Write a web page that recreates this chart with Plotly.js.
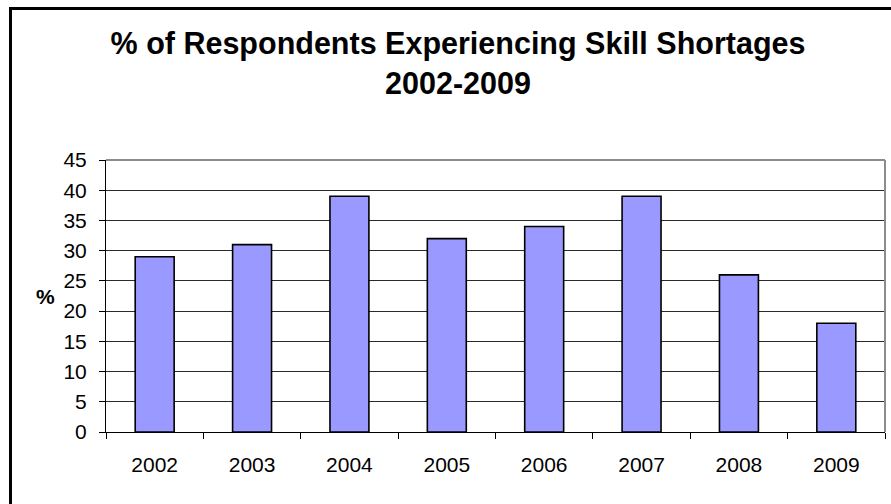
<!DOCTYPE html>
<html>
<head>
<meta charset="utf-8">
<script src="https://cdn.plot.ly/plotly-3.0.1.min.js"></script>
<style>
html,body{margin:0;padding:0;background:#fff;}
#chart{width:891px;height:504px;}
</style>
</head>
<body>
<div id="chart"></div>
<script>
const years = ["2002","2003","2004","2005","2006","2007","2008","2009"];
const percentRespondents = [29, 31, 39, 32, 34, 39, 26, 18];
const yTickValues = [0,5,10,15,20,25,30,35,40,45];

const W = 891, H = 504;
const M = {l:106, r:6, t:160, b:72};
const pw = W - M.l - M.r, ph = H - M.t - M.b;
const px = x => (x - M.l) / pw;
const py = y => (H - M.b - y) / ph;

const trace = {
  type: 'bar',
  x: years,
  y: percentRespondents,
  marker: {color: '#9999FF', line: {color: '#000000', width: 1.6}},
  hoverinfo: 'x+y'
};

const layout = {
  width: W, height: H,
  margin: M,
  paper_bgcolor: '#ffffff',
  plot_bgcolor: '#ffffff',
  showlegend: false,
  bargap: 0.6,
  font: {family: 'Liberation Sans, Arial, sans-serif', color: '#000', size: 21},
  title: {
    text: '<b>% of Respondents Experiencing Skill Shortages<br>2002-2009</b>',
    font: {family: 'Liberation Sans, Arial, sans-serif', size: 30.5, color: '#000'},
    x: 458 / W, xref: 'container', xanchor: 'center',
    y: 1 - 54 / H, yref: 'container', yanchor: 'top'
  },
  xaxis: {
    type: 'category',
    showline: true, linecolor: '#000', linewidth: 1,
    ticks: 'outside', tickson: 'boundaries', ticklen: 6, tickcolor: '#000', tickwidth: 1,
    showgrid: false,
    tickfont: {size: 21},
    ticklabelstandoff: 14
  },
  yaxis: {
    range: [0, 45],
    tickvals: yTickValues,
    ticktext: yTickValues.map(String),
    showline: true, linecolor: '#000', linewidth: 1,
    ticks: 'outside', ticklen: 6, tickcolor: '#000', tickwidth: 1,
    showgrid: true, gridcolor: '#2a2a2a', gridwidth: 1,
    zeroline: false,
    tickfont: {size: 21},
    ticklabelstandoff: 8
  },
  annotations: [{
    text: '<b>%</b>', xref: 'paper', yref: 'paper',
    x: px(46), y: py(296), xanchor: 'center', yanchor: 'middle',
    showarrow: false, font: {size: 21, color: '#000'}
  }],
  shapes: [
    {type: 'line', xref: 'paper', yref: 'paper', x0: 0, x1: 1, y0: 1, y1: 1,
     line: {color: '#8c8c8c', width: 2}, layer: 'above'},
    {type: 'line', xref: 'paper', yref: 'paper', x0: 1, x1: 1, y0: 0, y1: 1,
     line: {color: '#8c8c8c', width: 2}, layer: 'above'},
    {type: 'line', xref: 'paper', yref: 'paper', x0: px(10.5), x1: px(W + 10), y0: py(8.5), y1: py(8.5),
     line: {color: '#000', width: 3}},
    {type: 'line', xref: 'paper', yref: 'paper', x0: px(10.5), x1: px(10.5), y0: py(7), y1: py(H + 10),
     line: {color: '#000', width: 3}}
  ]
};

Plotly.newPlot('chart', [trace], layout, {displayModeBar: false, staticPlot: true});
</script>
</body>
</html>
